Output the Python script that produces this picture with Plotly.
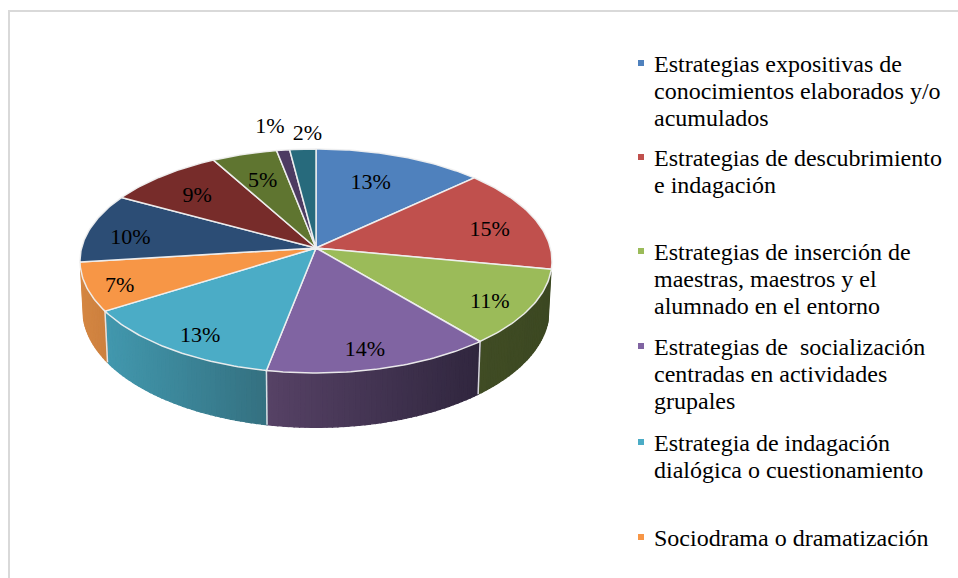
import numpy as np
import plotly.graph_objects as go

# --- data ---
values = [13, 15, 11, 14, 13, 7, 10, 9, 5, 1, 2]
legend_names = [
    ["Estrategias expositivas de", "conocimientos elaborados y/o", "acumulados"],
    ["Estrategias de descubrimiento", "e indagación"],
    ["Estrategias de inserción de", "maestras, maestros y el", "alumnado en el entorno"],
    ["Estrategias de\u00a0 socialización", "centradas en actividades", "grupales"],
    ["Estrategia de indagación", "dialógica o cuestionamiento"],
    ["Sociodrama o dramatización"],
]

# --- style ---
top_colors = ["#4F81BD", "#C0504D", "#9BBB59", "#8064A2", "#4BACC6", "#F79646",
              "#2C4D75", "#772C2A", "#5F7530", "#4D3B62", "#276A7C"]
wall_left = [(50, 80, 118), (125, 48, 46), (64, 76, 36), (86, 66, 102), (66, 152, 174), (212, 134, 66),
             (30, 52, 80), (80, 30, 28), (64, 78, 32), (52, 40, 66), (26, 72, 84)]
wall_right = [(50, 80, 118), (125, 48, 46), (60, 72, 34), (48, 38, 62), (52, 112, 128), (204, 128, 62),
              (30, 52, 80), (80, 30, 28), (64, 78, 32), (52, 40, 66), (26, 72, 84)]
label_r = [.70, .78, .83, .84, .84, .865, .81, .747, .726, 1.30, 1.20]
label_dt = [-2.4, 2.2, 1.4, 1.4, -1.5, -1.3, -2.8, -1, 0, -1, 1.6]
legend_y = [63, 157, 251, 346, 442, 537]
FONT = "Liberation Serif"
LEGEND_FS = 24
LABEL_FS = 22
LINE_H = 27
CX, CY = 316, 248      # projected pie centre, page pixels
A, B, K = 234.4, 110.5, 0.116   # perspective projection of the unit circle
DEPTH = 48
BOTTOM_SCALE = 0.988   # far (lower) rim slightly narrower


def project(theta_deg, r=1.0):
    t = np.radians(theta_deg)
    X, Y = r * np.sin(t), r * np.cos(t)
    w = 1 + K * Y
    return CX + A * X / w, CY - B * Y / w


def lower(theta_deg):
    x, y = project(theta_deg)
    h = DEPTH / (1 + K * np.cos(np.radians(theta_deg)))
    return CX + (x - CX) * BOTTOM_SCALE, y + h


def rgb(c):
    return "rgb(%d,%d,%d)" % tuple(int(round(v)) for v in c)


total = sum(values)
edges = np.concatenate([[0], np.cumsum(values)]) / total * 360
fig = go.Figure()

# side walls, as thin strips shaded left to right within each slice
for i in range(len(values)):
    a0, a1 = edges[i], edges[i + 1]
    n = max(2, int((a1 - a0) / 1.2))
    ts = np.linspace(a0, a1, n + 1)
    xa, _ = project(a0)
    xb, _ = project(a1)
    lo, hi = min(xa, xb), max(xa, xb)
    for j in range(n):
        t0, t1 = ts[j], ts[j + 1]
        if np.cos(np.radians((t0 + t1) / 2)) > -0.2:
            continue
        x0, y0 = project(t0)
        x1, y1 = project(t1)
        bx0, by0 = lower(t0)
        bx1, by1 = lower(t1)
        f = ((x0 + x1) / 2 - lo) / (hi - lo) if hi > lo else 0
        col = rgb(np.array(wall_left[i]) * (1 - f) + np.array(wall_right[i]) * f)
        fig.add_trace(go.Scatter(
            x=[x0, x1, bx1, bx0, x0], y=[y0, y1, by1, by0, y0],
            mode="lines", fill="toself", fillcolor=col,
            line=dict(color=col, width=1.3), hoverinfo="skip", showlegend=False))

# white separators on the walls
for e in edges[:-1]:
    if np.cos(np.radians(e)) < -0.3:
        x, y = project(e)
        bx, by = lower(e)
        fig.add_trace(go.Scatter(x=[x, bx], y=[y, by], mode="lines",
                                 line=dict(color="rgba(235,235,240,0.9)", width=1.5),
                                 hoverinfo="skip", showlegend=False))

# top face
for i in range(len(values)):
    ts = np.linspace(edges[i], edges[i + 1], max(3, int(values[i] * 4)))
    xs, ys = project(ts)
    fig.add_trace(go.Scatter(
        x=np.concatenate([[CX], xs, [CX]]), y=np.concatenate([[CY], ys, [CY]]),
        mode="lines", fill="toself", fillcolor=top_colors[i],
        line=dict(color="rgba(240,240,240,0.95)", width=1.5),
        hoverinfo="skip", showlegend=False))

# percentage labels
mids = (edges[:-1] + edges[1:]) / 2
lx, ly = zip(*[project(m + d, r) for m, d, r in zip(mids, label_dt, label_r)])
fig.add_trace(go.Scatter(x=lx, y=[v + 3 for v in ly], mode="text", text=[f"{v}%" for v in values],
                         textposition="middle center",
                         textfont=dict(family=FONT, size=LABEL_FS, color="#000000"),
                         hoverinfo="skip", showlegend=False))

# legend
fig.add_trace(go.Scatter(x=[641] * len(legend_names), y=legend_y, mode="markers",
                         marker=dict(symbol="square", size=6, color=top_colors[:len(legend_names)]),
                         hoverinfo="skip", showlegend=False))
for lines, y in zip(legend_names, legend_y):
    for k, line in enumerate(lines):
        fig.add_annotation(x=654, y=y + 1 + k * LINE_H, text=line, showarrow=False,
                           xanchor="left", yanchor="middle", align="left", xref="x", yref="y",
                           borderpad=0, borderwidth=0,
                           font=dict(family=FONT, size=LEGEND_FS, color="#000000"))

# chart frame
fig.add_shape(type="line", x0=8, x1=958, y0=11, y1=11, line=dict(color="#D9D9D9", width=2))
fig.add_shape(type="line", x0=9, x1=9, y0=10, y1=578, line=dict(color="#D9D9D9", width=2))

fig.update_layout(
    width=958, height=578, margin=dict(l=0, r=0, t=0, b=0),
    paper_bgcolor="white", plot_bgcolor="white", showlegend=False,
    xaxis=dict(range=[0, 958], visible=False, fixedrange=True),
    yaxis=dict(range=[578, 0], visible=False, fixedrange=True),
)
fig.write_html("out.html", post_script="document.body.style.margin='0';document.body.style.overflow='hidden';",
               config=dict(displayModeBar=False))
